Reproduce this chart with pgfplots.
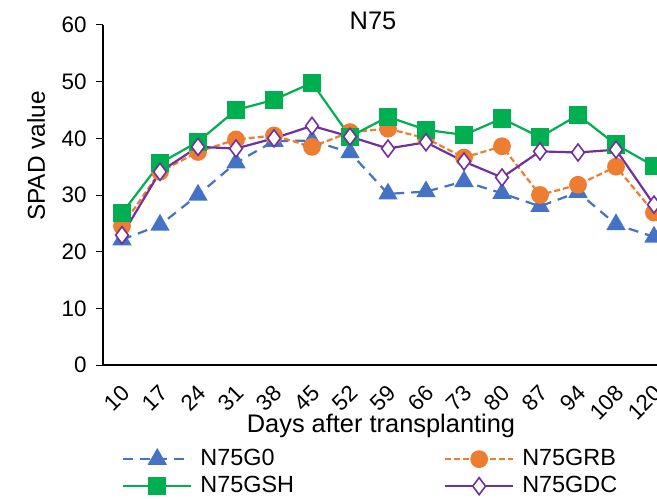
\documentclass[border=0pt]{standalone}
\usepackage{fontspec}
\setmainfont{Liberation Sans}
\usepackage{pgfplots}
\pgfplotsset{compat=1.18}

\definecolor{cG0}{HTML}{4472C4}
\definecolor{cGRB}{HTML}{ED7D31}
\definecolor{cGSH}{HTML}{00B050}
\definecolor{cGDC}{HTML}{7030A0}

% SPAD readings, sampling days indexed 0..14
\pgfplotstableread{
idx G0   GRB  GSH  GDC
0   22.1 24.5 26.8 22.9
1   24.7 34.1 35.6 34.1
2   30.0 37.6 39.4 38.5
3   35.7 39.8 45.0 38.2
4   39.5 40.5 46.8 40.0
5   39.6 38.5 49.8 42.2
6   37.5 41.1 40.3 40.3
7   30.2 41.7 43.8 38.2
8   30.6 40.0 41.5 39.3
9   32.4 36.6 40.6 35.9
10  30.3 38.6 43.5 33.1
11  28.0 30.0 40.2 37.7
12  30.5 31.8 44.1 37.5
13  24.8 35.0 38.9 38.0
14  22.6 26.9 35.1 28.3
}\spad

\begin{document}
\begin{tikzpicture}
\begin{axis}[
  scale only axis,
  width=570bp, height=340bp,
  xmin=-0.5, xmax=14.5,
  ymin=0, ymax=60,
  clip=false,
  axis lines*=left,
  axis line style={black, line width=1.1bp},
  xtick={0,...,14},
  xticklabels={10,17,24,31,38,45,52,59,66,73,80,87,94,108,120},
  xtick style={draw=none},
  ytick={0,10,...,60},
  ytick style={black, line width=1bp},
  tick align=outside,
  major tick length=7bp,
  /pgf/number format/assume math mode=true,
  yticklabel style={font=\fontsize{22.5}{26}\selectfont, xshift=-6bp},
  xticklabel style={font=\fontsize{22.5}{26}\selectfont, rotate=45, anchor=east, inner sep=1bp, xshift=-8bp, yshift=-15bp},
  xlabel={Days after transplanting},
  xlabel style={font=\fontsize{25.5}{28}\selectfont, at={(axis description cs:0.4877,0)}, anchor=base, yshift=-67bp},
  ylabel={SPAD value},
  ylabel style={font=\fontsize{24.5}{28}\selectfont, at={(axis description cs:0,0.615)}, anchor=base, yshift=58bp},
  title={N75},
  title style={font=\fontsize{25.5}{28}\selectfont, at={(axis description cs:0.4737,1)}, anchor=base, yshift=-10bp},
  legend columns=2,
  legend cell align=left,
  legend style={
    at={(axis description cs:0.0333,-0.244)}, anchor=north west,
    draw=none, fill=none, inner sep=0pt,
    font=\fontsize{23.5}{26}\selectfont,
    nodes={inner xsep=4bp, inner ysep=0pt, text height=17bp, text depth=5bp},
    row sep=5bp,
    /tikz/every odd column/.append style={column sep=4bp},
    /tikz/every even column/.append style={column sep=146bp},
  },
  legend image code/.code={
    \draw[mark repeat=2, mark phase=2, #1] plot coordinates {(0bp,0bp) (34bp,0bp) (68bp,0bp)};
  },
]
\addplot[cG0, line width=2.2bp, dash pattern=on 10bp off 7bp,
  mark=triangle*, mark size=9bp, mark options={solid, fill=cG0, draw=cG0}]
  table[x=idx, y=G0] {\spad};
\addlegendentry{N75G0}
\addplot[cGRB, line width=2.2bp, dash pattern=on 6bp off 3bp,
  mark=*, mark size=7.8bp, mark options={solid, fill=cGRB, draw=cGRB}]
  table[x=idx, y=GRB] {\spad};
\addlegendentry{N75GRB}
\addplot[cGSH, line width=2.2bp,
  mark=square*, mark size=8bp, mark options={solid, fill=cGSH, draw=cGSH}]
  table[x=idx, y=GSH] {\spad};
\addlegendentry{N75GSH}
\addplot[cGDC, line width=2.2bp,
  mark=diamond*, mark size=8.5bp, mark options={solid, fill=white, draw=cGDC, line width=1.6bp}]
  table[x=idx, y=GDC] {\spad};
\addlegendentry{N75GDC}
\end{axis}
\pgfresetboundingbox
\path (-103bp,-134bp) rectangle (554bp,365bp);
\end{tikzpicture}
\end{document}
